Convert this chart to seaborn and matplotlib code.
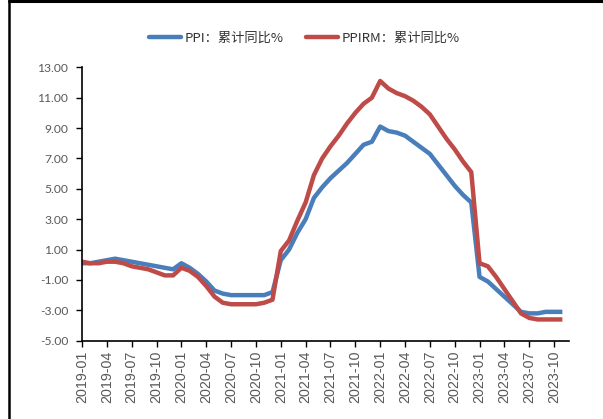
import matplotlib
matplotlib.use("Agg")
import matplotlib.pyplot as plt
import seaborn as sns
import pandas as pd
import numpy as np
from matplotlib.lines import Line2D

# ---- data ----
months = [f"{y}-{m:02d}" for y in range(2019, 2024) for m in range(1, 13)][:59]
ppi = [0.1, 0.1, 0.2, 0.3, 0.4, 0.3, 0.2, 0.1, 0.0, -0.1, -0.2, -0.3,
       0.1, -0.2, -0.6, -1.1, -1.7, -1.9, -2.0, -2.0, -2.0, -2.0, -2.0, -1.8,
       0.3, 1.0, 2.1, 3.0, 4.4, 5.1, 5.7, 6.2, 6.7, 7.3, 7.9, 8.1,
       9.1, 8.8, 8.7, 8.5, 8.1, 7.7, 7.3, 6.6, 5.9, 5.2, 4.6, 4.1,
       -0.8, -1.1, -1.6, -2.1, -2.6, -3.1, -3.2, -3.2, -3.1, -3.1, -3.1]
ppirm = [0.2, 0.1, 0.1, 0.2, 0.2, 0.1, -0.1, -0.2, -0.3, -0.5, -0.7, -0.7,
         -0.2, -0.4, -0.8, -1.4, -2.1, -2.5, -2.6, -2.6, -2.6, -2.6, -2.5, -2.3,
         0.9, 1.6, 2.9, 4.1, 5.9, 7.0, 7.8, 8.5, 9.3, 10.0, 10.6, 11.0,
         12.1, 11.6, 11.3, 11.1, 10.8, 10.4, 9.9, 9.1, 8.3, 7.6, 6.8, 6.1,
         0.1, -0.1, -0.8, -1.6, -2.4, -3.2, -3.5, -3.6, -3.6, -3.6, -3.6]
series_names = ["PPI：累计同比%", "PPIRM：累计同比%"]
colors = ["#4A7EBB", "#BE4B48"]
yticks = [13, 11, 9, 7, 5, 3, 1, -1, -3, -5]

df = pd.DataFrame({
    "idx": list(range(len(months))) * 2,
    "value": ppi + ppirm,
    "series": [series_names[0]] * len(ppi) + [series_names[1]] * len(ppirm),
})

sns.set_theme(style="white")
plt.rcParams["font.family"] = ["Lato", "DejaVu Sans"]

fig = plt.figure(figsize=(6.03, 4.19), dpi=100)
ax = fig.add_axes([82/603, 1-340.7/419, (569-82)/603, (340.7-67.3)/419])

sns.lineplot(data=df, x="idx", y="value", hue="series", palette=colors,
             linewidth=3.2, ax=ax, legend=False)
for ln in ax.get_lines():
    ln.set_solid_capstyle("butt")
    ln.set_solid_joinstyle("round")

ax.set_xlim(0, 58.8)
ax.set_ylim(-5, 13)
ax.set_yticks(yticks)
ax.set_yticklabels([f"{v:.2f}" for v in yticks])
tick_idx = list(range(0, len(months), 3))
ax.set_xticks(tick_idx)
ax.set_xticklabels([months[i] for i in tick_idx], rotation=90,
                   family=["Liberation Sans", "DejaVu Sans"], fontsize=10.3)
ax.set_xlabel("")
ax.set_ylabel("")

for s in ["top", "right"]:
    ax.spines[s].set_visible(False)
for s in ["left", "bottom"]:
    ax.spines[s].set_color("black")
    ax.spines[s].set_linewidth(1.2)
ax.tick_params(axis="both", which="major", direction="out", length=4,
               width=1.0, color="black", labelcolor="#595959",
               left=True, bottom=True, pad=2)
ax.tick_params(axis="y", pad=6, labelsize=8.7)
ax.tick_params(axis="x", pad=3)

handles = [Line2D([0], [0], color=c, lw=3.2) for c in colors]
leg = fig.legend(handles, series_names, loc="center", ncol=2,
                 bbox_to_anchor=(0.505, 1-38/419), frameon=False,
                 handlelength=2.4, columnspacing=1.7, handletextpad=0.3,
                 prop={"family": ["Noto Sans CJK SC", "DejaVu Sans"], "size": 9.5,
                       "weight": "medium"})
for t in leg.get_texts():
    t.set_color("#333333")

# outer frame (left and top)
fig.add_artist(Line2D([9/603, 9/603], [0, 1], transform=fig.transFigure,
                      color="black", lw=1.8))
fig.add_artist(Line2D([9/603, 1], [1-1.5/419, 1-1.5/419], transform=fig.transFigure,
                      color="black", lw=2.2))

fig.savefig("out.png", dpi=100)
